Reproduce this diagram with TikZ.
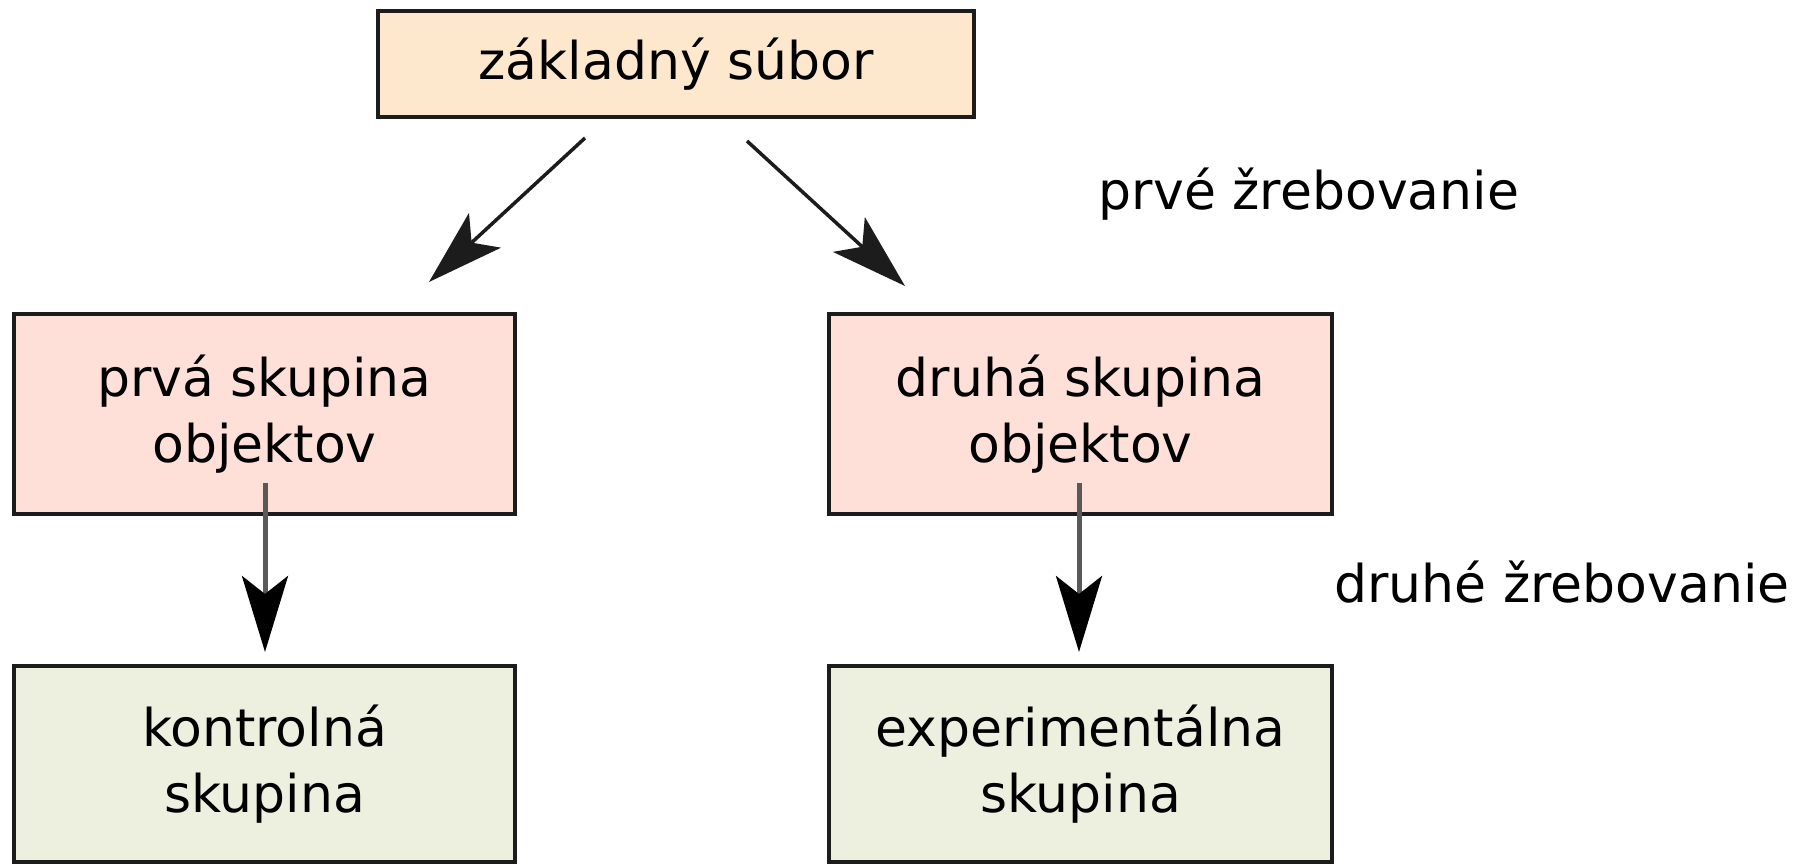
\documentclass[tikz,border=0pt]{standalone}
\usepackage{fontspec}
\setmainfont{DejaVu Sans}
\usetikzlibrary{arrows.meta}
\definecolor{topfill}{HTML}{FEE8CD}
\definecolor{midfill}{HTML}{FFE0D9}
\definecolor{botfill}{HTML}{EEF0DF}
\definecolor{edge}{HTML}{1C1C1C}
\begin{document}
\begin{tikzpicture}[x=1pt,y=-1pt,
  box/.style={draw=edge, line width=4pt, rectangle, align=center, inner sep=0pt,
    font=\fontsize{52}{66}\selectfont, text=black},
  txt/.style={font=\fontsize{52}{66}\selectfont, text=black, inner sep=0pt},
  arr/.style={line width=3.5pt, draw=edge, -{Stealth[length=76pt, width=47pt, inset=18pt]}},
  varr/.style={line width=5pt, draw=black!65, -{Stealth[length=76pt, width=46pt, inset=18pt, color=black, fill=black]}}]
\useasboundingbox (0,0) rectangle (1808,866);
\node[box, fill=topfill, minimum width=596pt, minimum height=106pt] (zs) at (676,64) {základný súbor};
\node[box, fill=midfill, minimum width=501pt, minimum height=200pt] (g1) at (264.5,414) {prvá skupina\\objektov};
\node[box, fill=midfill, minimum width=503pt, minimum height=200pt] (g2) at (1080.5,414) {druhá skupina\\objektov};
\node[box, fill=botfill, minimum width=501pt, minimum height=196pt] (ks) at (264.5,764) {kontrolná\\skupina};
\node[box, fill=botfill, minimum width=503pt, minimum height=196pt] (es) at (1080.5,764) {experimentálna\\skupina};
\node[txt] (l1) at (1309,194) {prvé žrebovanie};
\node[txt] (l2) at (1562,582) {druhé žrebovanie};
\coordinate (a1s) at (585,138);
\coordinate (a1e) at (429,282);
\coordinate (a2s) at (747,141);
\coordinate (a2e) at (905,286);
\coordinate (v1s) at (265,483);
\coordinate (v1e) at (265,652);
\coordinate (v2s) at (1079,483);
\coordinate (v2e) at (1079,652);
\draw[arr] (a1s) -- (a1e);
\draw[arr] (a2s) -- (a2e);
\draw[varr] (v1s) -- (v1e);
\draw[varr] (v2s) -- (v2e);
\end{tikzpicture}
\end{document}
